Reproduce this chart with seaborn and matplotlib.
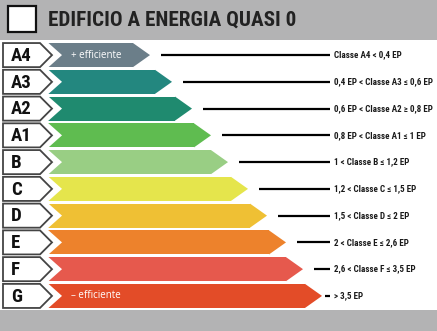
import matplotlib
matplotlib.use("Agg")
import matplotlib.pyplot as plt
import seaborn as sns
import pandas as pd
from matplotlib.patches import Polygon, Rectangle
from matplotlib import font_manager as fm

classes = ["A4", "A3", "A2", "A1", "B", "C", "D", "E", "F", "G"]
tip_ends = [150, 172, 192, 211, 228, 248, 267, 286, 303, 322]
colors = ["#6b7e89", "#23877f", "#1f8a6f", "#5fbc50", "#99ce84",
          "#e5e54c", "#efc034", "#ed822c", "#e6594d", "#e34c28"]
ranges = ["Classe A4 < 0,4 EP", "0,4 EP < Classe A3 \u2264 0,6 EP",
          "0,6 EP < Classe A2 \u2265 0,8 EP", "0,8 EP < Classe A1 \u2264 1 EP",
          "1 < Classe B \u2264 1,2 EP", "1,2 < Classe C \u2264 1,5 EP",
          "1,5 < Classe D \u2264 2 EP", "2 < Classe E \u2264 2,6 EP",
          "2,6 < Classe F \u2264 3,5 EP", "> 3,5 EP"]
title = "EDIFICIO A ENERGIA QUASI 0"
top_note = "+ efficiente"
bottom_note = "\u2013 efficiente"

W, H = 437, 331
DEPTH = 17

names = {f.name for f in fm.fontManager.ttflist}
cond_fam = None
for cand in ["DejaVu Sans Condensed", "Liberation Sans Narrow", "Roboto Condensed",
             "Open Sans Condensed", "Noto Sans Condensed"]:
    if cand in names:
        cond_fam = cand
        break
cond_props = dict(family=[cond_fam or "DejaVu Sans", "DejaVu Sans"])
if cond_fam is None:
    cond_props["fontstretch"] = "condensed"

sns.set_theme(style="white")
fig = plt.figure(figsize=(W / 100, H / 100), dpi=100)
fig.patch.set_facecolor("white")

bg = fig.add_axes([0, 0, 1, 1])
bg.set_xlim(0, W)
bg.set_ylim(H, 0)
bg.axis("off")
bg.add_patch(Rectangle((0, 0), W, 40, color="#b3b3b4", lw=0))
bg.add_patch(Rectangle((0, 310), W, 21, color="#b3b3b4", lw=0))
bg.add_patch(Rectangle((8, 6), 28, 26, facecolor="white", edgecolor="#111111", lw=1.6))
bg.text(48, 20, title, fontsize=15.2, fontweight="bold", color="#222222",
        va="center", ha="left", **cond_props)

top_px, bot_px = 41.7, 309.3
ax = fig.add_axes([0, 1 - bot_px / H, 1, (bot_px - top_px) / H])
df = pd.DataFrame({"cls": classes, "body": [t - DEPTH for t in tip_ends]})
sns.barplot(data=df, x="body", y="cls", hue="cls", palette=colors, orient="h",
            width=0.9, saturation=1, legend=False, ax=ax, linewidth=0)
ax.set_xlim(0, W)
ax.set_ylim(len(classes) - 0.5, -0.5)
ax.axis("off")

hh = 0.45
for i, (c, tip, col, rng) in enumerate(zip(classes, tip_ends, colors, ranges)):
    body = tip - DEPTH
    ax.add_patch(Polygon([(body, i - hh), (tip, i), (body, i + hh)],
                         closed=True, facecolor=col, edgecolor="none"))
    ax.add_patch(Polygon([(-1, i - 0.5), (47, i - 0.5), (62, i), (47, i + 0.5), (-1, i + 0.5)],
                         closed=True, facecolor="white", edgecolor="none"))
    ax.add_patch(Polygon([(3, i - hh), (40, i - hh), (52, i), (40, i + hh), (3, i + hh)],
                         closed=True, facecolor="white", edgecolor="#444444", lw=1.3))
    ax.text(11, i + 0.03, c, fontsize=13.5, fontweight="bold", color="#111111",
            va="center", ha="left", **cond_props)
    start = min(tip + 11, 325)
    ax.plot([start, 330], [i, i], color="black", lw=1.6, solid_capstyle="butt")
    ax.text(334, i, rng, fontsize=6.5, fontweight="bold", color="#1a1a1a",
            va="center", ha="left", **cond_props)

ax.text(71, 0, top_note, fontsize=7, color="white", va="center", ha="left", family="Open Sans")
ax.text(71, len(classes) - 1, bottom_note, fontsize=7, color="white", va="center", ha="left",
        family="Open Sans")

fig.savefig("out.png", dpi=100, facecolor="white")
